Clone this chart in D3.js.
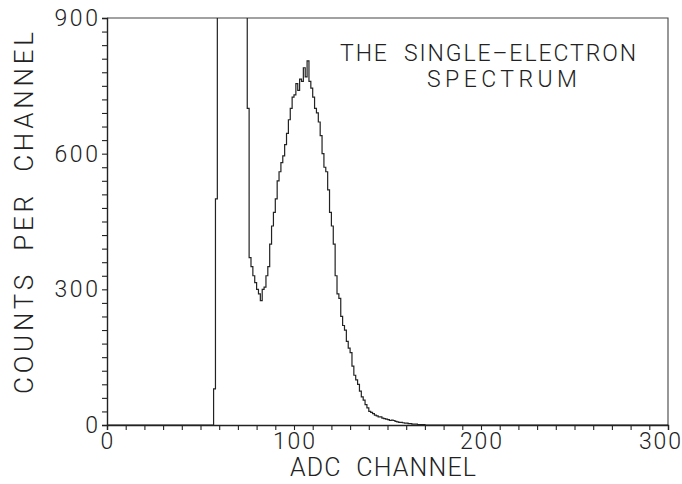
<!DOCTYPE html>
<html><head><meta charset="utf-8">
<script src="https://cdn.jsdelivr.net/npm/d3@7"></script>
<style>
html,body{margin:0;padding:0;background:#fff;}
text{font-family:Roboto,"DejaVu Sans",sans-serif;font-weight:300;fill:#222;white-space:pre;}
</style></head>
<body><svg id="c" width="682" height="484"></svg>
<script>
// ---- data ----
const firstChannel = 50;
const counts = [
  0,0,0,0,0,0,0,80,500,1500,
  2500,4000,6000,8000,9000,9500,9000,8000,6500,5000,
  3500,2500,1700,1200,1050,700,370,350,330,315,
  300,290,275,300,305,330,350,400,440,470,
  500,540,560,580,595,620,645,675,700,725,
  730,755,740,765,760,790,770,805,760,745,
  725,700,690,670,640,600,570,560,520,470,
  440,400,330,290,280,240,220,210,185,170,
  160,130,110,100,90,75,62,55,45,38,
  30,28,25,22,20,18,18,15,14,13,
  12,10,11,10,8,7,6,6,5,4,
  4,3,3,2,2,2,1,1,1,1,
  0
];
const xTicks = [0,100,200,300];
const yTicks = [0,300,600,900];
const xLabel = "ADC  CHANNEL";
const yLabel = "COUNTS  PER  CHANNEL";
const titleLines = ["THE  SINGLE\u2013ELECTRON","SPECTRUM"];

// ---- layout ----
const svg = d3.select("#c");
const L=107, R=668, T=18, B=425;
const x = d3.scaleLinear().domain([0,300]).range([L,R]);
const y = d3.scaleLinear().domain([0,900]).range([B,T]);

const ink="#222";

svg.append("clipPath").attr("id","pc").append("rect")
  .attr("x",L).attr("y",T).attr("width",R-L).attr("height",B-T);

// frame (top, right)
svg.append("path").attr("d",`M${L},${T}H${R}V${B}`)
  .attr("fill","none").attr("stroke","#444").attr("stroke-width",1.1);

// axes
const xAxis = d3.axisBottom(x).tickValues(d3.range(0,301,10)).tickSize(5).tickFormat("");
const gx = svg.append("g").attr("transform",`translate(0,${B})`).call(xAxis);
const yAxis = d3.axisLeft(y).tickValues(d3.range(0,901,30)).tickSize(5).tickFormat("");
const gy = svg.append("g").attr("transform",`translate(${L},0)`).call(yAxis);
[gx,gy].forEach(g=>{
  g.select(".domain").attr("stroke",ink).attr("stroke-width",1.4);
  g.selectAll(".tick line").attr("stroke",ink).attr("stroke-width",1.1);
});

// tick labels
svg.selectAll(".xl").data(xTicks).join("text").attr("class","xl")
  .attr("x",d=>Math.min(x(d), 681 - String(d).length*7))
  .attr("y",B+24).attr("text-anchor","middle")
  .attr("font-size",23).attr("textLength",d=>String(d).length*14)
  .text(d=>d);
svg.selectAll(".yl").data(yTicks).join("text").attr("class","yl")
  .attr("x",L-9).attr("y",d=>y(d)+8).attr("text-anchor","end")
  .attr("font-size",23).attr("textLength",d=>String(d).length*14.5)
  .text(d=>d);

// axis titles
svg.append("text").attr("x",383).attr("y",476).attr("text-anchor","middle")
  .attr("font-size",25).attr("textLength",186).attr("lengthAdjust","spacing").text(xLabel);
svg.append("text").attr("transform","translate(33,213) rotate(-90)").attr("text-anchor","middle")
  .attr("font-size",26).attr("textLength",362).attr("lengthAdjust","spacing").text(yLabel);

// title
svg.append("text").attr("x",488).attr("y",61).attr("text-anchor","middle")
  .attr("font-size",23).attr("textLength",296).attr("lengthAdjust","spacing").text(titleLines[0]);
svg.append("text").attr("x",502).attr("y",87).attr("text-anchor","middle")
  .attr("font-size",23).attr("textLength",150).attr("lengthAdjust","spacing").text(titleLines[1]);

// histogram step line
const pts = [[0,0]];
counts.forEach((c,i)=>pts.push([firstChannel+i,c]));
pts.push([firstChannel+counts.length,0],[300,0]);
const line = d3.line().x(d=>x(d[0])).y(d=>y(d[1])).curve(d3.curveStepAfter);
svg.append("path").datum(pts).attr("d",line).attr("clip-path","url(#pc)")
  .attr("fill","none").attr("stroke",ink).attr("stroke-width",1.2);
</script></body></html>
